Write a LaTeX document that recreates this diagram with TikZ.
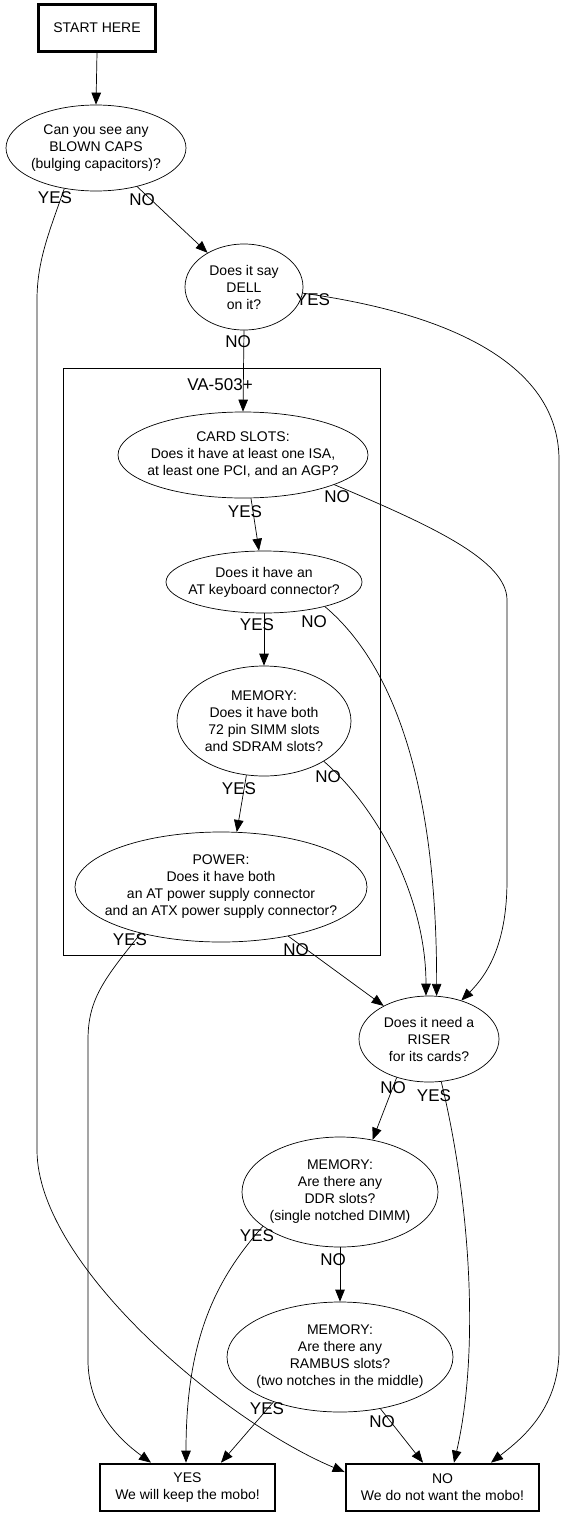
\documentclass[tikz,border=0pt]{standalone}
\usepackage{fontspec}
\setmainfont{Liberation Sans}
\usetikzlibrary{shapes.geometric,arrows.meta}
\begin{document}
\begin{tikzpicture}[x=1pt,y=-1pt,
  every node/.style={font=\fontsize{14}{17}\selectfont},
  q/.style={ellipse, draw, line width=0.7pt, inner sep=0pt},
  bx/.style={rectangle, draw, line width=2.7pt, minimum height=47pt, align=center, inner sep=0pt},
  lbl/.style={font=\fontsize{17}{17}\selectfont, inner sep=0pt},
  edge/.style={line width=0.7pt, -{Triangle[length=12pt,width=9.5pt]}}]
\useasboundingbox (0,0) rectangle (577,1528);
\fill[white] (0,0) rectangle (577,1528);

% cluster
\draw[line width=0.8pt] (63,368) rectangle (380,955);
\node[lbl] (clab) at (220,385) {VA-503+};

% nodes
\node[bx, minimum width=117pt] (start) at (97,28) {START HERE};
\node[q, minimum width=180pt, minimum height=86pt,
  label={[align=center]center:{Can you see any\\BLOWN CAPS\\(bulging capacitors)?}}] (blown) at (96,148) {};
\node[q, minimum width=118pt, minimum height=86pt,
  label={[align=center]center:{Does it say\\DELL\\on it?}}] (dell) at (244,287) {};
\node[q, minimum width=250pt, minimum height=86pt,
  label={[align=center]center:{CARD SLOTS:\\Does it have at least one ISA,\\at least one PCI, and an AGP?}}] (card) at (243,455) {};
\node[q, minimum width=196pt, minimum height=62pt,
  label={[align=center]center:{Does it have an\\AT keyboard connector?}}] (kbd) at (264,582) {};
\node[q, minimum width=174pt, minimum height=110pt,
  label={[align=center]center:{MEMORY:\\Does it have both\\72 pin SIMM slots\\and SDRAM slots?}}] (simm) at (264,721) {};
\node[q, minimum width=292pt, minimum height=110pt,
  label={[align=center]center:{POWER:\\Does it have both\\an AT power supply connector\\and an ATX power supply connector?}}] (power) at (221,887) {};
\node[q, minimum width=140pt, minimum height=86pt,
  label={[align=center]center:{Does it need a\\RISER\\for its cards?}}] (riser) at (429,1039) {};
\node[q, minimum width=196pt, minimum height=110pt,
  label={[align=center]center:{MEMORY:\\Are there any\\DDR slots?\\(single notched DIMM)}}] (ddr) at (340,1192) {};
\node[q, minimum width=226pt, minimum height=110pt,
  label={[align=center]center:{MEMORY:\\Are there any\\RAMBUS slots?\\(two notches in the middle)}}] (rambus) at (340,1357) {};
\node[bx, minimum width=175pt] (yes) at (187.5,1487.5) {YES\\We will keep the mobo!};
\node[bx, minimum width=193pt] (no) at (442.5,1487.5) {NO\\We do not want the mobo!};

% edges
\draw[edge] (start.south) -- (blown.north);
\draw[edge] (blown) -- (dell);
\draw[edge] (blown.-128) .. controls (50,230) and (37,260) .. (37,300) -- (37,1150)
  .. controls (37,1265) and (225,1422) .. ([yshift=15.5pt]no.west);
\draw[edge] (dell.south) -- (card.north);
\draw[edge] (dell.-6) .. controls (440,312) and (559,360) .. (559,460) -- (559,1350)
  .. controls (559,1410) and (520,1440) .. ([xshift=48.5pt]no.north);
\draw[edge] ([xshift=8pt]card.south) -- ([xshift=-5pt]kbd.north);
\draw[edge] (card.-18) .. controls (430,525) and (507,560) .. (507,600) -- (507,880)
  .. controls (507,940) and (490,972) .. (riser.50);
\draw[edge] (kbd.south) -- (simm.north);
\draw[edge] (kbd.-22) .. controls (400,670) and (437,800) .. (riser.80);
\draw[edge] (simm.-108) -- (power.74);
\draw[edge] (simm.-34) .. controls (380,810) and (426,900) .. (riser.94);
\draw[edge] (power) -- (riser);
\draw[edge] (power.-150) .. controls (103,980) and (88,1000) .. (88,1040) -- (88,1360)
  .. controls (88,1410) and (120,1440) .. ([xshift=-36.5pt]yes.north);
\draw[edge] (riser.-130) -- (ddr.58);
\draw[edge] (riser.-74) .. controls (470,1200) and (480,1350) .. ([xshift=11.5pt]no.north);
\draw[edge] (ddr.south) -- (rambus.north);
\draw[edge] (ddr.-156) .. controls (215,1280) and (186,1340) .. ([xshift=-1.5pt]yes.north);
\draw[edge] (rambus.-146) -- ([xshift=33.5pt]yes.north);
\draw[edge] (rambus.-52) -- ([xshift=-19.5pt]no.north);

% edge labels
\node[lbl] (l1) at (55,198) {YES};
\node[lbl] (l2) at (142,200) {NO};
\node[lbl] (l3) at (313,300) {YES};
\node[lbl] (l4) at (238,342) {NO};
\node[lbl] (l5) at (337,497) {NO};
\node[lbl] (l6) at (245,512) {YES};
\node[lbl] (l7) at (257,625) {YES};
\node[lbl] (l8) at (314,622) {NO};
\node[lbl] (l9) at (239,789) {YES};
\node[lbl] (l10) at (328,777) {NO};
\node[lbl] (l11) at (130,940) {YES};
\node[lbl] (l12) at (296,950) {NO};
\node[lbl] (l13) at (393,1088) {NO};
\node[lbl] (l14) at (434,1096) {YES};
\node[lbl] (l15) at (257,1236) {YES};
\node[lbl] (l16) at (333,1260) {NO};
\node[lbl] (l17) at (267,1409) {YES};
\node[lbl] (l18) at (382,1422) {NO};
\end{tikzpicture}
\end{document}
